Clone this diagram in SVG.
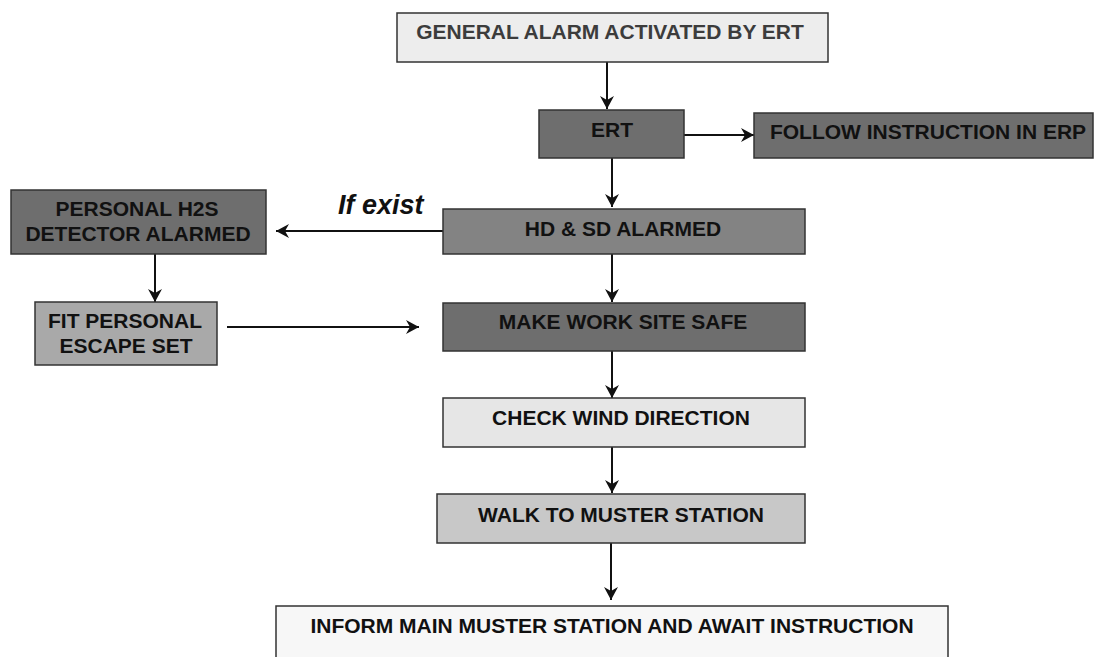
<svg xmlns="http://www.w3.org/2000/svg" width="1095" height="657" viewBox="0 0 1095 657">
  <style>
    .box { stroke: #333333; stroke-width: 1.5; }
    .lbl { font-family: "Liberation Sans", Arial, sans-serif; font-weight: bold; font-size: 21px; fill: #111111; text-anchor: middle; }
    .dark { fill: #6e6e6e; }
    .mid { fill: #838383; }
    .fit { fill: #a9a9a9; }
    .walk { fill: #c8c8c8; }
    .check { fill: #e6e6e6; }
    .top { fill: #ededed; }
    .last { fill: #f7f7f7; }
    .conn { stroke: #111111; stroke-width: 2; fill: none; marker-end: url(#arrow); }
    .note { font-family: "Liberation Sans", Arial, sans-serif; font-weight: bold; font-style: italic; font-size: 27px; fill: #111111; }
  </style>
  <defs>
    <marker id="arrow" markerUnits="userSpaceOnUse" markerWidth="14" markerHeight="14" refX="13" refY="7" orient="auto">
      <path d="M0,0 L13,7 L0,14 L4,7 Z" fill="#111111"/>
    </marker>
  </defs>
  <rect width="1095" height="657" fill="#ffffff"/>

  <g id="connectors">
    <line class="conn" x1="607" y1="62" x2="607" y2="109"/>
    <line class="conn" x1="612" y1="158" x2="612" y2="207"/>
    <line class="conn" x1="684" y1="135" x2="754" y2="135"/>
    <line class="conn" x1="443" y1="231" x2="276" y2="231"/>
    <line class="conn" x1="612" y1="254" x2="612" y2="302"/>
    <line class="conn" x1="155" y1="254" x2="155" y2="302"/>
    <line class="conn" x1="227" y1="327" x2="419" y2="327"/>
    <line class="conn" x1="612" y1="351" x2="612" y2="398"/>
    <line class="conn" x1="612" y1="447" x2="612" y2="493"/>
    <line class="conn" x1="611" y1="543" x2="611" y2="600"/>
  </g>

  <g id="general-alarm">
    <rect class="box top" x="397" y="13" width="431" height="49"/>
    <text class="lbl" x="610" y="39" style="fill:#3c3c3c">GENERAL ALARM ACTIVATED BY ERT</text>
  </g>

  <g id="ert">
    <rect class="box dark" x="539" y="110" width="145" height="48"/>
    <text class="lbl" x="612" y="137">ERT</text>
  </g>

  <g id="follow-erp">
    <rect class="box dark" x="754" y="113" width="339" height="45"/>
    <text class="lbl" x="928" y="139">FOLLOW INSTRUCTION IN ERP</text>
  </g>

  <g id="if-exist-label">
    <text class="note" x="338" y="214">If exist</text>
  </g>

  <g id="personal-h2s">
    <rect class="box dark" x="11" y="190" width="255" height="64"/>
    <text class="lbl" x="137" y="216">PERSONAL H2S</text>
    <text class="lbl" x="138" y="241">DETECTOR ALARMED</text>
  </g>

  <g id="hd-sd">
    <rect class="box mid" x="443" y="209" width="362" height="45"/>
    <text class="lbl" x="623" y="236">HD &amp; SD ALARMED</text>
  </g>

  <g id="fit-escape-set">
    <rect class="box fit" x="35" y="302" width="182" height="63"/>
    <text class="lbl" x="125" y="328">FIT PERSONAL</text>
    <text class="lbl" x="126" y="353">ESCAPE SET</text>
  </g>

  <g id="make-safe">
    <rect class="box dark" x="443" y="303" width="362" height="48"/>
    <text class="lbl" x="623" y="329">MAKE WORK SITE SAFE</text>
  </g>

  <g id="check-wind">
    <rect class="box check" x="443" y="398" width="362" height="49"/>
    <text class="lbl" x="621" y="425">CHECK WIND DIRECTION</text>
  </g>

  <g id="walk-muster">
    <rect class="box walk" x="437" y="494" width="368" height="49"/>
    <text class="lbl" x="621" y="522">WALK TO MUSTER STATION</text>
  </g>

  <g id="inform-main">
    <rect class="box last" x="276" y="606" width="672" height="64"/>
    <text class="lbl" x="612" y="633">INFORM MAIN MUSTER STATION AND AWAIT INSTRUCTION</text>
  </g>
</svg>
